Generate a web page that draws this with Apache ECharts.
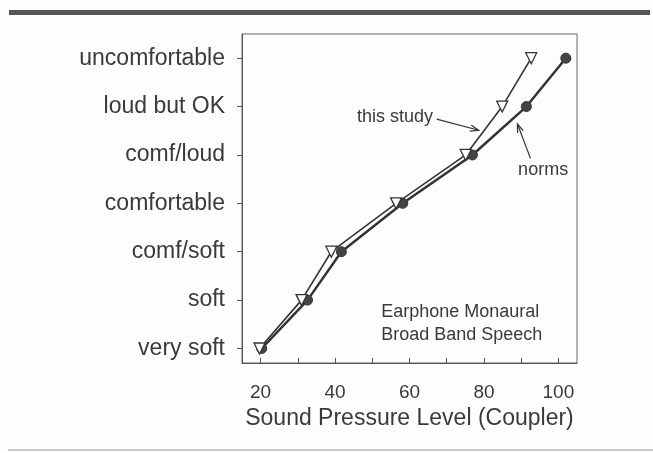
<!DOCTYPE html>
<html>
<head>
<meta charset="utf-8">
<script src="https://cdn.jsdelivr.net/npm/echarts@6/dist/echarts.min.js"></script>
<style>
  html, body { margin: 0; padding: 0; background: #fdfdfb; }
  #chart { width: 653px; height: 453px; }
</style>
</head>
<body>
<div id="chart"></div>
<script>
(function(){
  // rating categories on the y axis (1 = very soft ... 7 = uncomfortable)
  const categories = ["very soft", "soft", "comf/soft", "comfortable", "comf/loud", "loud but OK", "uncomfortable"];
  // sound pressure level (dB, coupler) for each category
  const thisStudy = [19.7, 31, 39, 56.4, 75.1, 84.9, 92.7];
  const norms = [20.3, 32.6, 41.7, 58.2, 76.9, 91.4, 102];
  const xTicks = [20, 30, 40, 50, 60, 70, 80, 90, 100];
  const xLabels = [20, 40, 60, 80, 100];

  const ink = "#3a3a3a";
  const font = "Liberation Sans, Arial, sans-serif";

  const container = document.getElementById("chart");
  const chart = echarts.init(container);

  const toPoints = arr => arr.map((v, i) => [v, i + 1]);

  const option = {
    backgroundColor: "#fdfdfb",
    animation: false,
    textStyle: { fontFamily: font, color: ink },
    grid: {
      left: 242, right: 76, top: 34, bottom: 90,
      show: true, borderColor: "#666", borderWidth: 1, backgroundColor: "transparent"
    },
    xAxis: {
      type: "value", min: 15, max: 105,
      name: "Sound Pressure Level (Coupler)",
      nameLocation: "middle", nameGap: 36,
      nameTextStyle: { fontSize: 23, color: ink, fontFamily: font },
      axisLine: { show: true, lineStyle: { color: "#555", width: 1 } },
      axisTick: { show: true, inside: true, length: 5, customValues: xTicks, lineStyle: { color: "#555" } },
      axisLabel: { customValues: xLabels, fontSize: 19, color: ink, margin: 20, fontFamily: font },
      splitLine: { show: false }
    },
    yAxis: {
      type: "value", min: 0.7, max: 7.5,
      axisLine: { show: true, lineStyle: { color: "#555", width: 1 } },
      axisTick: { show: true, inside: false, length: 5, customValues: [1, 2, 3, 4, 5, 6, 7], lineStyle: { color: "#555" } },
      axisLabel: {
        customValues: [1, 2, 3, 4, 5, 6, 7],
        fontSize: 23, color: ink, margin: 17, fontFamily: font,
        formatter: v => categories[Math.round(v) - 1] || ""
      },
      splitLine: { show: false }
    },
    series: [
      {
        name: "norms", type: "line", data: toPoints(norms),
        symbol: "circle", symbolSize: 10,
        itemStyle: { color: "#444", borderColor: "#333", borderWidth: 1 },
        lineStyle: { color: "#333", width: 2.5 },
        z: 2
      },
      {
        name: "this study", type: "line", data: toPoints(thisStudy),
        symbol: "triangle", symbolSize: 11, symbolRotate: 180,
        itemStyle: { color: "#fff", borderColor: "#333", borderWidth: 1.3 },
        lineStyle: { color: "#333", width: 1.6 },
        z: 3
      }
    ]
  };

  chart.setOption(option);

  // annotations, placed in data coordinates
  const px = p => chart.convertToPixel({ gridIndex: 0 }, p);
  function arrow(from, to) {
    const a = px(from), b = px(to);
    const ang = Math.atan2(b[1] - a[1], b[0] - a[0]);
    const L = 9, W = 0.35;
    return [
      { type: "line", shape: { x1: a[0], y1: a[1], x2: b[0], y2: b[1] }, style: { stroke: "#333", lineWidth: 1.2 } },
      { type: "polyline", shape: { points: [
          [b[0] - L * Math.cos(ang - W), b[1] - L * Math.sin(ang - W)],
          [b[0], b[1]],
          [b[0] - L * Math.cos(ang + W), b[1] - L * Math.sin(ang + W)]
        ] }, style: { stroke: "#333", lineWidth: 1.2, fill: null } }
    ];
  }
  const tStudy = px([66.3, 5.78]);
  const tNorms = px([95.9, 4.69]);
  const tNote = px([52.4, 1.51]);

  chart.setOption({
    graphic: [
      { type: "rect", shape: { x: 9, y: 10, width: 641, height: 5 }, style: { fill: "#555" } },
      { type: "rect", shape: { x: 8, y: 449, width: 645, height: 2 }, style: { fill: "#c8c8c8" } },
      { type: "text", x: tStudy[0], y: tStudy[1], style: { text: "this study", fontSize: 18, fontFamily: font, fill: ink, align: "right", verticalAlign: "middle" } },
      { type: "text", x: tNorms[0], y: tNorms[1], style: { text: "norms", fontSize: 18, fontFamily: font, fill: ink, align: "center", verticalAlign: "middle" } },
      { type: "text", x: tNote[0], y: tNote[1], style: { text: "Earphone Monaural\nBroad Band Speech", fontSize: 18, lineHeight: 23, fontFamily: font, fill: ink, align: "left", verticalAlign: "middle" } }
    ].concat(arrow([67.3, 5.74], [78.6, 5.51]), arrow([92.5, 4.93], [89, 5.64]))
  });

  window.addEventListener("resize", () => chart.resize());
})();
</script>
</body>
</html>
